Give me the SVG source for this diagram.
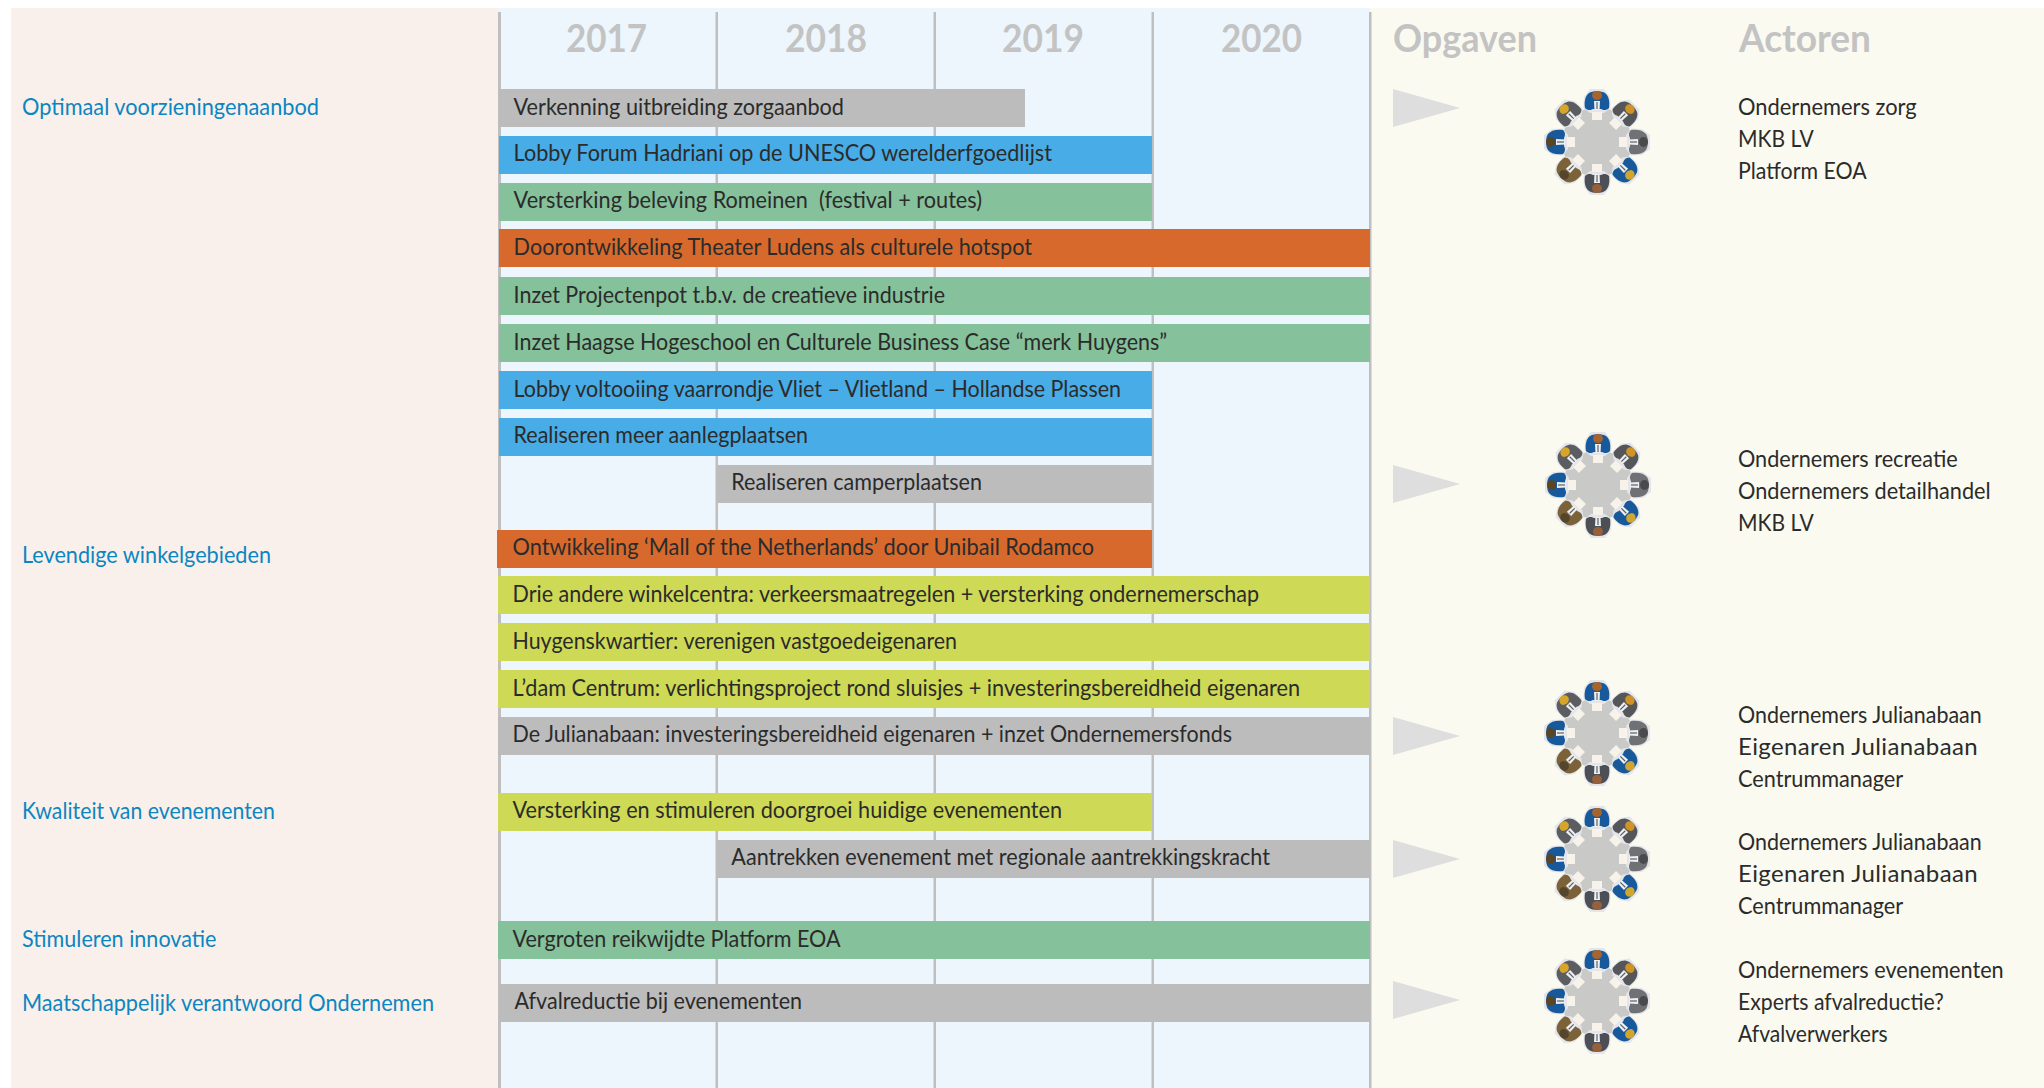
<svg xmlns="http://www.w3.org/2000/svg" width="2044" height="1088" viewBox="0 0 2044 1088">
<style>
text{font-family:Lato,"Liberation Sans",sans-serif;font-size:24px;fill:#2b2b2b;white-space:pre}
.goal{fill:#0b86c1}
.head{font-size:38px;font-weight:700;fill:#c3c3c3}
.grid{fill:#bfbfbf}
.g{fill:#bcbcbc}.b{fill:#48ace6}.t{fill:#85c19a}.o{fill:#d7692c}.y{fill:#ced955}
.tri{fill:#dedede}
</style>
<defs>
<g id="person">
<path fill="#e3e5ea" d="M-13.500,-34 L-13,-45 L-7,-53 L7,-53 L13,-45 L13.500,-34 L7,-29 L-7,-29 Z"/>
<path d="M-12,-34 C-13,-40 -12,-46 -8,-49 C-5,-51.500 5,-51.500 8,-49 C12,-46 13,-40 12,-34 C9,-31 6,-32 4,-33 L-4,-33 C-6,-32 -9,-31 -12,-34 Z"/>
<ellipse cx="0" cy="-46.500" rx="5" ry="4.500" fill="currentColor"/>
<path fill="#eef0f0" d="M-3,-41 L3,-41 L2.500,-32 L-2.500,-32 Z"/>
<path fill="#5c6068" d="M-.6,-40 L.6,-40 L.6,-33 L-.6,-33 Z"/>
<rect x="-5" y="-30" width="10" height="8" fill="#f8f3ea"/>
</g>
<g id="tableset">
<circle r="35" fill="#c9c9c7"/>
<use href="#person" fill="#17599a" color="#a8642a"/>
<use href="#person" transform="rotate(45)" fill="#55565a" color="#cf9326"/>
<use href="#person" transform="rotate(90)" fill="#707174" color="#4a4a4c"/>
<use href="#person" transform="rotate(135)" fill="#17599a" color="#d2a52f"/>
<use href="#person" transform="rotate(180)" fill="#4c4f55" color="#96603a"/>
<use href="#person" transform="rotate(225)" fill="#7b6238" color="#54452e"/>
<use href="#person" transform="rotate(270)" fill="#17599a" color="#5a4525"/>
<use href="#person" transform="rotate(315)" fill="#5c5d60" color="#d6a52a"/>
</g>
</defs>

<g id="panels">
<rect x="11" y="8" width="487" height="1080" fill="#faf0eb"/>
<rect x="498" y="8" width="872" height="1080" fill="#edf6fd"/>
<rect x="1370" y="8" width="674" height="1080" fill="#fafaf0"/>
</g>

<g id="gridlines">
<rect class="grid" x="498" y="12" width="3" height="1076"/>
<rect class="grid" x="715.500" y="12" width="2.500" height="1076"/>
<rect class="grid" x="933.500" y="12" width="2.500" height="1076"/>
<rect class="grid" x="1151.500" y="12" width="2.500" height="1076"/>
<rect class="grid" x="1369" y="12" width="2.500" height="1076"/>
</g>

<g id="headers">
<text class="head" x="566" y="52" textLength="81" lengthAdjust="spacingAndGlyphs">2017</text>
<text class="head" x="785" y="52" textLength="82" lengthAdjust="spacingAndGlyphs">2018</text>
<text class="head" x="1002" y="52" textLength="82" lengthAdjust="spacingAndGlyphs">2019</text>
<text class="head" x="1221" y="52" textLength="81" lengthAdjust="spacingAndGlyphs">2020</text>
<text class="head" x="1393" y="52" textLength="144" lengthAdjust="spacingAndGlyphs">Opgaven</text>
<text class="head" x="1739" y="52" textLength="132" lengthAdjust="spacingAndGlyphs">Actoren</text>
</g>

<g id="goals">
<text class="goal" x="22" y="115" textLength="297" lengthAdjust="spacingAndGlyphs">Optimaal voorzieningenaanbod</text>
<text class="goal" x="22" y="563" textLength="249" lengthAdjust="spacingAndGlyphs">Levendige winkelgebieden</text>
<text class="goal" x="22" y="819" textLength="253" lengthAdjust="spacingAndGlyphs">Kwaliteit van evenementen</text>
<text class="goal" x="22" y="947" textLength="194.500" lengthAdjust="spacingAndGlyphs">Stimuleren innovatie</text>
<text class="goal" x="22" y="1011" textLength="412" lengthAdjust="spacingAndGlyphs">Maatschappelijk verantwoord Ondernemen</text>
</g>

<g id="bars">
<g id="bar1"><rect class="g" x="499" y="89" width="526" height="38"/><text x="513.600" y="115" textLength="330.400" lengthAdjust="spacingAndGlyphs">Verkenning uitbreiding zorgaanbod</text></g>
<g id="bar2"><rect class="b" x="499" y="136" width="653" height="38"/><text x="513.600" y="161" textLength="538.400" lengthAdjust="spacingAndGlyphs">Lobby Forum Hadriani op de UNESCO werelderfgoedlijst</text></g>
<g id="bar3"><rect class="t" x="499" y="183" width="653" height="38"/><text x="513.600" y="208" textLength="468.400" lengthAdjust="spacingAndGlyphs">Versterking beleving Romeinen  (festival + routes)</text></g>
<g id="bar4"><rect class="o" x="499" y="229" width="871" height="38"/><text x="513.600" y="255" textLength="518.400" lengthAdjust="spacingAndGlyphs">Doorontwikkeling Theater Ludens als culturele hotspot</text></g>
<g id="bar5"><rect class="t" x="499" y="277" width="871" height="38"/><text x="513.600" y="303" textLength="431.400" lengthAdjust="spacingAndGlyphs">Inzet Projectenpot t.b.v. de creatieve industrie</text></g>
<g id="bar6"><rect class="t" x="499" y="324" width="871" height="38"/><text x="513.600" y="350" textLength="653.400" lengthAdjust="spacingAndGlyphs">Inzet Haagse Hogeschool en Culturele Business Case “merk Huygens”</text></g>
<g id="bar7"><rect class="b" x="499" y="371" width="653" height="38"/><text x="513.600" y="397" textLength="607.400" lengthAdjust="spacingAndGlyphs">Lobby voltooiing vaarrondje Vliet – Vlietland – Hollandse Plassen</text></g>
<g id="bar8"><rect class="b" x="499" y="418" width="653" height="38"/><text x="513.600" y="443" textLength="294.400" lengthAdjust="spacingAndGlyphs">Realiseren meer aanlegplaatsen</text></g>
<g id="bar9"><rect class="g" x="716" y="465" width="436" height="38"/><text x="731.300" y="490" textLength="250.700" lengthAdjust="spacingAndGlyphs">Realiseren camperplaatsen</text></g>
<g id="bar10"><rect class="o" x="497" y="530" width="655" height="38"/><text x="512.500" y="555" textLength="581.500" lengthAdjust="spacingAndGlyphs">Ontwikkeling ‘Mall of the Netherlands’ door Unibail Rodamco</text></g>
<g id="bar11"><rect class="y" x="498" y="576" width="872" height="38"/><text x="512.500" y="602" textLength="746.500" lengthAdjust="spacingAndGlyphs">Drie andere winkelcentra: verkeersmaatregelen + versterking ondernemerschap</text></g>
<g id="bar12"><rect class="y" x="498" y="623" width="872" height="38"/><text x="512.500" y="649" textLength="444.500" lengthAdjust="spacingAndGlyphs">Huygenskwartier: verenigen vastgoedeigenaren</text></g>
<g id="bar13"><rect class="y" x="498" y="670" width="872" height="38"/><text x="512.500" y="696" textLength="787.500" lengthAdjust="spacingAndGlyphs">L’dam Centrum: verlichtingsproject rond sluisjes + investeringsbereidheid eigenaren</text></g>
<g id="bar14"><rect class="g" x="498" y="717" width="872" height="38"/><text x="512.500" y="742" textLength="719.500" lengthAdjust="spacingAndGlyphs">De Julianabaan: investeringsbereidheid eigenaren + inzet Ondernemersfonds</text></g>
<g id="bar15"><rect class="y" x="498" y="793" width="654" height="38"/><text x="512.500" y="818" textLength="549.500" lengthAdjust="spacingAndGlyphs">Versterking en stimuleren doorgroei huidige evenementen</text></g>
<g id="bar16"><rect class="g" x="716.500" y="840" width="653.500" height="38"/><text x="731.300" y="865" textLength="538.700" lengthAdjust="spacingAndGlyphs">Aantrekken evenement met regionale aantrekkingskracht</text></g>
<g id="bar17"><rect class="t" x="498" y="921" width="872" height="38"/><text x="512.500" y="947" textLength="328" lengthAdjust="spacingAndGlyphs">Vergroten reikwijdte Platform EOA</text></g>
<g id="bar18"><rect class="g" x="499" y="984" width="871" height="38"/><text x="514.500" y="1009" textLength="287.500" lengthAdjust="spacingAndGlyphs">Afvalreductie bij evenementen</text></g>
</g>

<g id="triangles">
<polygon class="tri" points="1393,89 1460,108 1393,127"/>
<polygon class="tri" points="1393,465 1460,484 1393,503"/>
<polygon class="tri" points="1393,717 1460,736 1393,755"/>
<polygon class="tri" points="1393,840 1460,859 1393,878"/>
<polygon class="tri" points="1393,981 1460,1000 1393,1019"/>
</g>

<g id="tables">
<use id="table1" href="#tableset" x="1597" y="142"/>
<use id="table2" href="#tableset" x="1598" y="485"/>
<use id="table3" href="#tableset" x="1597" y="733"/>
<use id="table4" href="#tableset" x="1597" y="859"/>
<use id="table5" href="#tableset" x="1597" y="1001"/>
</g>

<g id="actors">
<g id="actors1">
<text x="1738" y="115" textLength="178.700" lengthAdjust="spacingAndGlyphs">Ondernemers zorg</text>
<text x="1738" y="147" textLength="75.700" lengthAdjust="spacingAndGlyphs">MKB LV</text>
<text x="1738" y="179" textLength="128.700" lengthAdjust="spacingAndGlyphs">Platform EOA</text>
</g>
<g id="actors2">
<text x="1738" y="467" textLength="219.700" lengthAdjust="spacingAndGlyphs">Ondernemers recreatie</text>
<text x="1738" y="499" textLength="252.700" lengthAdjust="spacingAndGlyphs">Ondernemers detailhandel</text>
<text x="1738" y="531" textLength="75.700" lengthAdjust="spacingAndGlyphs">MKB LV</text>
</g>
<g id="actors3">
<text x="1738" y="723" textLength="243.700" lengthAdjust="spacingAndGlyphs">Ondernemers Julianabaan</text>
<text x="1738" y="755" textLength="239.700" lengthAdjust="spacing">Eigenaren Julianabaan</text>
<text x="1738" y="787" textLength="165.200" lengthAdjust="spacingAndGlyphs">Centrummanager</text>
</g>
<g id="actors4">
<text x="1738" y="850" textLength="243.700" lengthAdjust="spacingAndGlyphs">Ondernemers Julianabaan</text>
<text x="1738" y="882" textLength="239.700" lengthAdjust="spacing">Eigenaren Julianabaan</text>
<text x="1738" y="914" textLength="165.200" lengthAdjust="spacingAndGlyphs">Centrummanager</text>
</g>
<g id="actors5">
<text x="1738" y="978" textLength="265.700" lengthAdjust="spacingAndGlyphs">Ondernemers evenementen</text>
<text x="1738" y="1010" textLength="205.700" lengthAdjust="spacingAndGlyphs">Experts afvalreductie?</text>
<text x="1738" y="1042" textLength="149.700" lengthAdjust="spacingAndGlyphs">Afvalverwerkers</text>
</g>
</g>
</svg>
